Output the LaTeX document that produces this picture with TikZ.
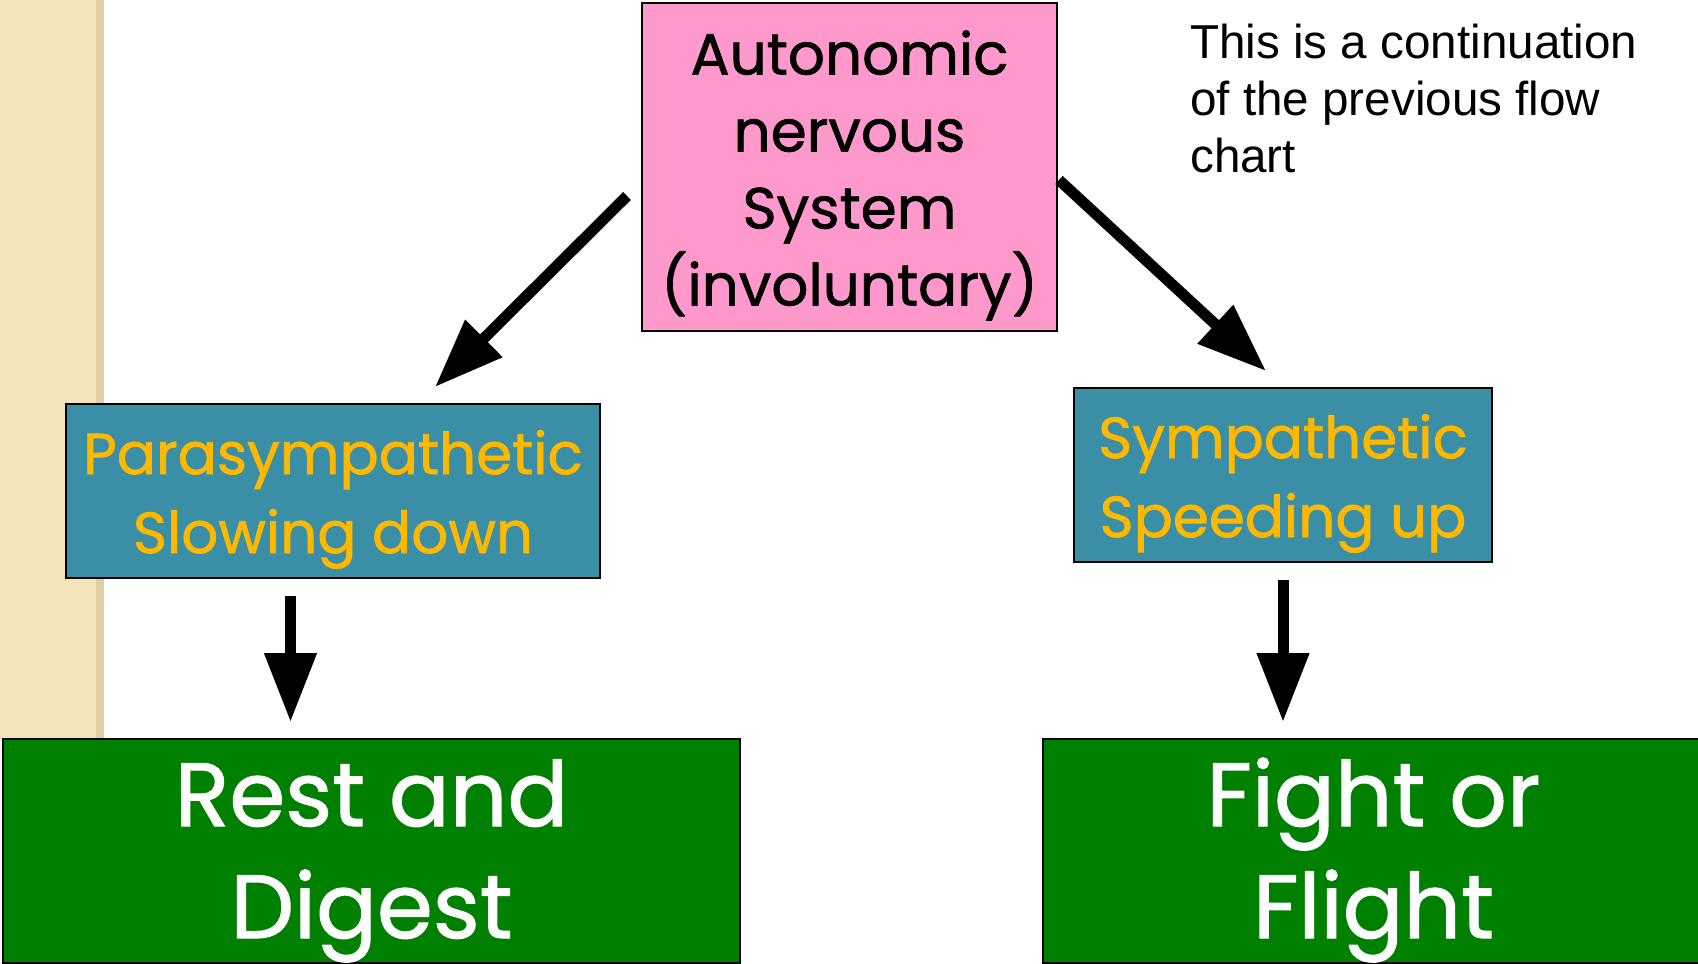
\documentclass[tikz,border=0pt]{standalone}
\usepackage{fontspec}
\usepackage{tikz}
\usetikzlibrary{arrows.meta}
\newfontfamily\comicfont[FakeBold=1.2]{Poppins}
\newfontfamily\notefont{Liberation Sans}
\newcommand\boxstrut[1][1.05em]{\rule{0pt}{#1}}
\definecolor{stripbg}{RGB}{242,227,185}
\definecolor{stripedge}{RGB}{224,207,163}
\definecolor{ansbg}{RGB}{255,153,204}
\definecolor{divbg}{RGB}{58,143,166}
\definecolor{divtext}{RGB}{255,184,0}
\definecolor{effbg}{RGB}{0,128,0}

\begin{document}
\begin{tikzpicture}[x=1pt,y=-1pt,
  box/.style={draw=black,line width=2pt,inner sep=0pt,align=center},
  ansbox/.style={box,fill=ansbg,minimum width=415pt,minimum height=328pt,font=\comicfont\fontsize{58}{77}\selectfont},
  divbox/.style={box,fill=divbg,text=divtext,minimum height=174pt,font=\comicfont\fontsize{58}{79}\selectfont},
  effbox/.style={box,fill=effbg,text=white,minimum height=224pt,font=\comicfont\fontsize{90}{112}\selectfont},
  bigarrow/.style={line width=11pt,-{Triangle[length=69pt,width=50pt]}}]
\useasboundingbox (0,0) rectangle (1698,964);
\fill[stripbg] (0,0) rectangle (104,740);
\fill[stripedge] (96,0) rectangle (104,740);
\node[ansbox] (ans) at (849.5,167) {\boxstrut Autonomic\\nervous\\System\\(involuntary)};
\node[divbox,minimum width=534pt] (para) at (333,491) {\boxstrut Parasympathetic\\Slowing down};
\node[divbox,minimum width=418pt] (symp) at (1283,475) {\boxstrut Sympathetic\\Speeding up};
\node[effbox,minimum width=737pt] (rest) at (371.5,851) {\boxstrut[0.96em]Rest and\\Digest};
\node[effbox,minimum width=661pt] (fight) at (1373.5,851) {\boxstrut[0.96em]Fight or\\Flight};
\node[anchor=north west,align=left,inner sep=0pt,font=\notefont\fontsize{47.6}{57}\selectfont] (note) at (1190,24) {This is a continuation\\of the previous flow\\chart};
\coordinate (ans-l) at (627,196);
\coordinate (para-t) at (435,387);
\coordinate (ans-r) at (1059,180);
\coordinate (symp-t) at (1266,371);
\coordinate (para-b) at (290.5,596);
\coordinate (rest-t) at (290.5,722);
\coordinate (symp-b) at (1283,580);
\coordinate (fight-t) at (1283,722);
\draw[bigarrow] (ans-l) -- (para-t);
\draw[bigarrow] (ans-r) -- (symp-t);
\draw[bigarrow] (para-b) -- (rest-t);
\draw[bigarrow] (symp-b) -- (fight-t);
\end{tikzpicture}
\end{document}
